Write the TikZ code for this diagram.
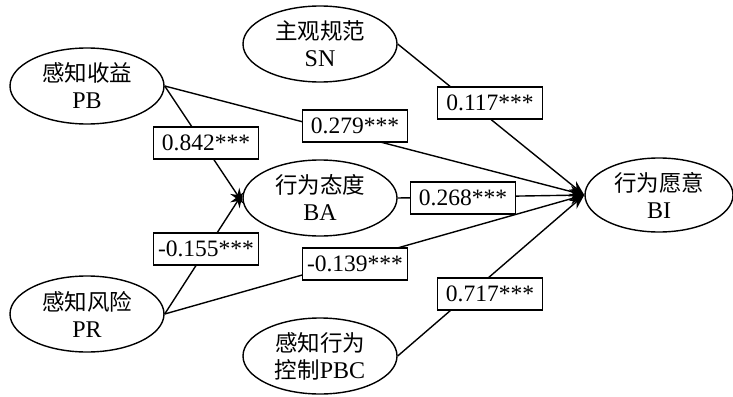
\documentclass[tikz,border=0pt]{standalone}
\usepackage{fontspec}
\setmainfont{Liberation Serif}
\newfontfamily\cjk{Noto Sans CJK SC}
\newcommand\zh[1]{{\cjk\fontsize{22.5}{27}\selectfont #1}}
\usetikzlibrary{shapes.geometric,arrows.meta}
\begin{document}
\begin{tikzpicture}[x=1pt,y=-1pt,
  var/.style={draw,line width=1.4pt,ellipse,minimum width=154pt,minimum height=76pt,inner sep=0pt,align=center,font=\fontsize{24}{27}\selectfont},
  lbl/.style={draw,fill=white,line width=1.4pt,inner xsep=2pt,inner ysep=0pt,minimum width=105pt,minimum height=32pt,font=\fontsize{23.5}{26}\selectfont},
  arr/.style={line width=1.4pt,-{Stealth[length=15pt,width=11pt]}}]
\useasboundingbox (0,0) rectangle (733,396);
\node[var] (PB) at (87,86) {\zh{感知收益}\\PB};
\node[var] (SN) at (320,44) {\zh{主观规范}\\SN};
\node[var] (BA) at (320,198) {\zh{行为态度}\\BA};
\node[var,minimum width=148pt,minimum height=74pt] (BI) at (659,195) {\zh{行为愿意}\\BI};
\node[var] (PR) at (87,314) {\zh{感知风险}\\PR};
\node[var] (PBC) at (320,356) {\zh{感知行为}\\\zh{控制}\fontsize{24}{27}\selectfont PBC};
\draw[arr] (PB.east) -- (BA.184);
\draw[arr] (PR.east) -- (BA.176);
\draw[arr] (PB.east) -- (BI.west);
\draw[arr] (SN.east) -- (BI.west);
\draw[arr] (BA.east) -- (BI.west);
\draw[arr] (PR.east) -- (BI.west);
\draw[arr] (PBC.east) -- (BI.west);
\node[lbl] (l1) at (206,143) {0.842***};
\node[lbl] (l2) at (355,126) {0.279***};
\node[lbl] (l3) at (490,103) {0.117***};
\node[lbl] (l4) at (463,198) {0.268***};
\node[lbl] (l5) at (206,249) {-0.155***};
\node[lbl] (l6) at (355,264) {-0.139***};
\node[lbl] (l7) at (490,294) {0.717***};
\end{tikzpicture}
\end{document}
